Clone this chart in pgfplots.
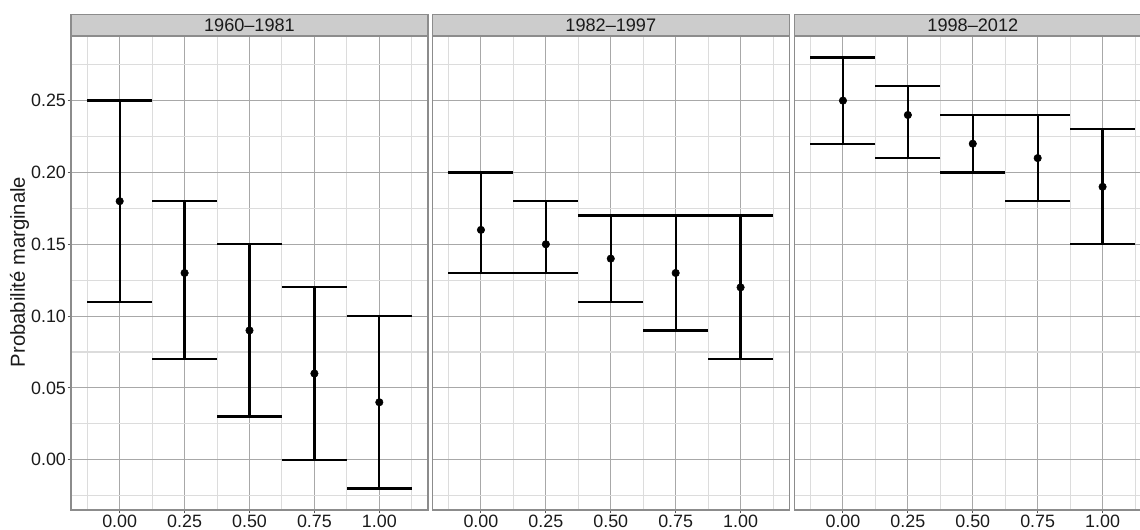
\documentclass[border=0pt]{standalone}
\usepackage{pgfplots}
\usepackage{pgfplotstable}
\pgfplotsset{compat=1.18}
\usepackage{fontspec}
\setmainfont{Liberation Sans}

\definecolor{majgrid}{HTML}{A8A8A8}
\definecolor{mingrid}{HTML}{DCDCDC}
\definecolor{bordergray}{HTML}{8C8C8C}
\definecolor{tickgray}{HTML}{555555}
\definecolor{stripfill}{HTML}{CCCCCC}
\definecolor{txt}{HTML}{1A1A1A}

\pgfplotstableread{
x y lo hi
0 0.18 0.11 0.25
0.25 0.13 0.07 0.18
0.5 0.09 0.03 0.15
0.75 0.06 0.00 0.12
1 0.04 -0.02 0.10
}\tableA
\pgfplotstableread{
x y lo hi
0 0.16 0.13 0.20
0.25 0.15 0.13 0.18
0.5 0.14 0.11 0.17
0.75 0.13 0.09 0.17
1 0.12 0.07 0.17
}\tableB
\pgfplotstableread{
x y lo hi
0 0.25 0.22 0.28
0.25 0.24 0.21 0.26
0.5 0.22 0.20 0.24
0.75 0.21 0.18 0.24
1 0.19 0.15 0.23
}\tableC

\pgfplotsset{
  facet/.style={
    anchor=south west,
    scale only axis, width=267.75pt, height=355.5pt,
    xmin=-0.1875, xmax=1.1875, ymin=-0.035, ymax=0.295,
    xtick={0,0.25,0.5,0.75,1},
    xticklabels={0.00,0.25,0.50,0.75,1.00},
    minor xtick={-0.125,0.125,0.375,0.625,0.875,1.125},
    ytick={0,0.05,0.10,0.15,0.20,0.25},
    minor ytick={-0.025,0.025,0.075,0.125,0.175,0.225,0.275},
    grid=both,
    major grid style={color=majgrid, line width=0.8pt},
    minor grid style={color=mingrid, line width=0.8pt},
    axis line style={color=bordergray, line width=1pt},
    tick pos=left, tick align=outside,
    major tick length=2.6pt, minor tick length=0pt,
    tick style={color=tickgray, line width=0.8pt},
    tick label style={text=txt, font=\fontsize{13.4}{15}\selectfont},
    xticklabel style={anchor=base, inner sep=0pt, yshift=-10.6pt},
    yticklabel style={anchor=east, inner sep=0pt, xshift=-1pt},
    clip=false,
  },
  ebar/.style={only marks, mark=*, mark size=2.8pt, black,
    error bars/.cd, y dir=both, y explicit,
    error mark=|,
    error mark options={mark size=24.35pt, line width=1.7pt, black},
    error bar style={line width=1.7pt, black}},
}

\begin{document}
\begin{tikzpicture}
\begin{axis}[facet, at={(53.25pt,15pt)},
  yticklabels={0.00,0.05,0.10,0.15,0.20,0.25}]
\addplot[ebar] table[x=x, y=y, y error plus expr=\thisrow{hi}-\thisrow{y}, y error minus expr=\thisrow{y}-\thisrow{lo}] {\tableA};
\end{axis}
\begin{axis}[facet, at={(324.2pt,15pt)},
  yticklabels={}, ytick style={draw=none}]
\addplot[ebar] table[x=x, y=y, y error plus expr=\thisrow{hi}-\thisrow{y}, y error minus expr=\thisrow{y}-\thisrow{lo}] {\tableB};
\end{axis}
\begin{axis}[facet, at={(595.7pt,15pt)},
  yticklabels={}, ytick style={draw=none}]
\addplot[ebar] table[x=x, y=y, y error plus expr=\thisrow{hi}-\thisrow{y}, y error minus expr=\thisrow{y}-\thisrow{lo}] {\tableC};
\end{axis}
% strips
\begin{scope}[font=\fontsize{13.6}{15}\selectfont, text=txt]
\draw[fill=stripfill, draw=bordergray, line width=1pt] (53.25pt,370.5pt) rectangle (321pt,386.8pt);
\node at (187.1pt,378.6pt) {1960–1981};
\draw[fill=stripfill, draw=bordergray, line width=1pt] (324.2pt,370.5pt) rectangle (591.95pt,386.8pt);
\node at (458.1pt,378.6pt) {1982–1997};
\draw[fill=stripfill, draw=bordergray, line width=1pt] (595.7pt,370.5pt) rectangle (863.45pt,386.8pt);
\node at (729.6pt,378.6pt) {1998–2012};
\node[rotate=90, font=\fontsize{15.2}{17}\selectfont] at (14.6pt,193.5pt) {Probabilité marginale};
\end{scope}
\pgfresetboundingbox
\useasboundingbox (0,0) rectangle (855pt,397.5pt);
\end{tikzpicture}
\end{document}
